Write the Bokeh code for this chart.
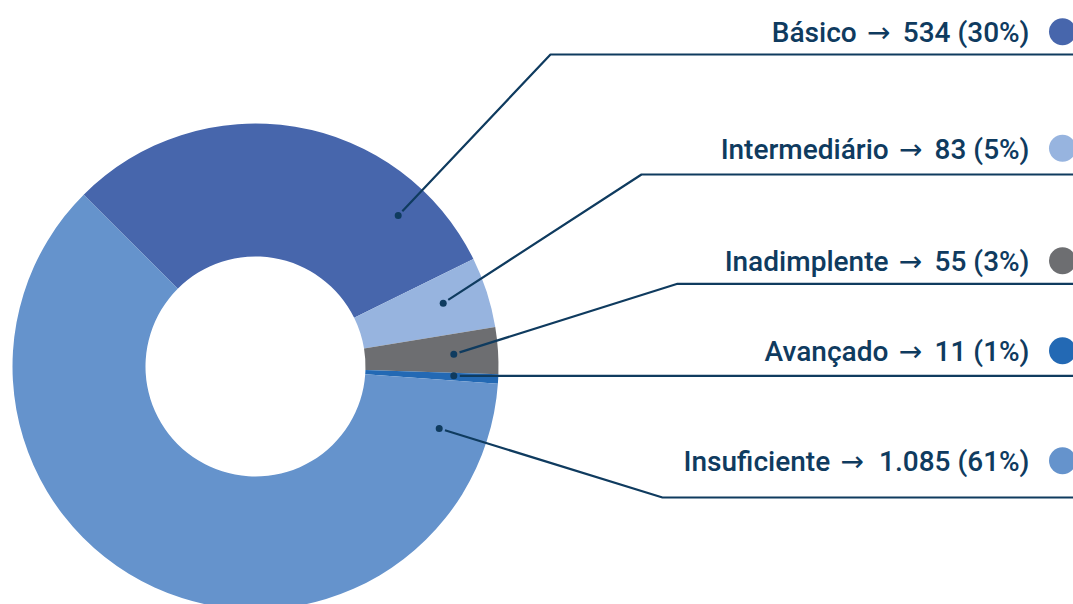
import math
from bokeh.plotting import figure
from bokeh.models import Range1d, ColumnDataSource
from bokeh.core.properties import value
from bokeh.embed import file_html
from bokeh.resources import INLINE

# ---- data ----
categories = ["Básico", "Intermediário", "Inadimplente", "Avançado", "Insuficiente"]
counts = [534, 83, 55, 11, 1085]
colors = ["#4766AC", "#97B4DF", "#6D6E71", "#2369B4", "#6593CC"]

# ---- layout (reference pixel coordinates, y measured from top) ----
W, H = 1073, 604
CX, CY = 255, 366
R_IN, R_OUT = 110, 243
START_DEG = 135.0  # first slice starts here, going clockwise
dot_pos = [(397.7, 215), (442.7, 302.7), (453.3, 353.7), (453.3, 375.2), (438.7, 428)]
elbow_pos = [(550, 54), (641, 174), (677, 283.3), (460, 375.3), (662, 497)]
label_baseline = [41.7, 158.3, 270.7, 360.7, 470.7]
arrow_cx = [878.3, 910.3, 910.0, 910.0, 851.7]
TEXT_DY = -9.5  # renderer places alphabetic baseline lower than requested
LABEL_RIGHT = 1029
MARK_X = 1062
INK = "#0F3B5F"
FONT = value("Roboto Medium")
FSIZE = "28px"


def fy(s):
    return H - s


def fmt_int(n):
    return f"{n:,}".replace(",", ".")


total = sum(counts)
value_texts = [f"{fmt_int(v)} ({round(100 * v / total)}%)" for v in counts]

# angles (clockwise from START_DEG)
starts, ends = [], []
acc = START_DEG
for v in counts:
    sweep = 360.0 * v / total
    ends.append(math.radians(acc))
    starts.append(math.radians(acc - sweep))
    acc -= sweep

p = figure(width=W, height=H, output_backend="svg", toolbar_location=None,
           x_range=Range1d(0, W), y_range=Range1d(0, H),
           min_border=0, outline_line_color=None)
p.axis.visible = False
p.grid.visible = False
p.background_fill_color = "white"
p.border_fill_color = "white"

src = ColumnDataSource(dict(start=starts, end=ends, color=colors))
p.annular_wedge(x=CX, y=fy(CY), inner_radius=R_IN, outer_radius=R_OUT,
                start_angle="start", end_angle="end", fill_color="color",
                line_color=None, source=src)

# leader lines
xs, ys = [], []
for (dx, dy), (ex, ey) in zip(dot_pos, elbow_pos):
    vx, vy = ex - dx, ey - dy
    L = math.hypot(vx, vy)
    gx, gy = dx + 6 * vx / L, dy + 6 * vy / L
    xs.append([gx, ex, W + 10])
    ys.append([fy(gy), fy(ey), fy(ey)])
p.multi_line(xs=xs, ys=ys, line_color=INK, line_width=2.2)

p.scatter(x=[d[0] for d in dot_pos], y=[fy(d[1]) for d in dot_pos],
          size=7, fill_color=INK, line_color=None)

# labels: name, arrow, value
ybase = [fy(b + TEXT_DY) for b in label_baseline]
p.text(x=[LABEL_RIGHT] * len(value_texts), y=ybase, text=value_texts,
       text_align="right", text_baseline="alphabetic", text_font=FONT,
       text_font_size=FSIZE, text_color=INK)
p.text(x=arrow_cx, y=ybase, text=["\u2192"] * len(categories),
       text_align="center", text_baseline="alphabetic", text_font=value("DejaVu Sans"),
       text_font_size=FSIZE, text_color=INK)
p.text(x=[a - 22 for a in arrow_cx], y=ybase, text=categories,
       text_align="right", text_baseline="alphabetic", text_font=FONT,
       text_font_size=FSIZE, text_color=INK)

# colour markers
p.scatter(x=[MARK_X] * len(categories), y=[fy(b - 10.5) for b in label_baseline],
          size=27, fill_color=colors, line_color=None)

open("out.html", "w").write(file_html(p, INLINE))
